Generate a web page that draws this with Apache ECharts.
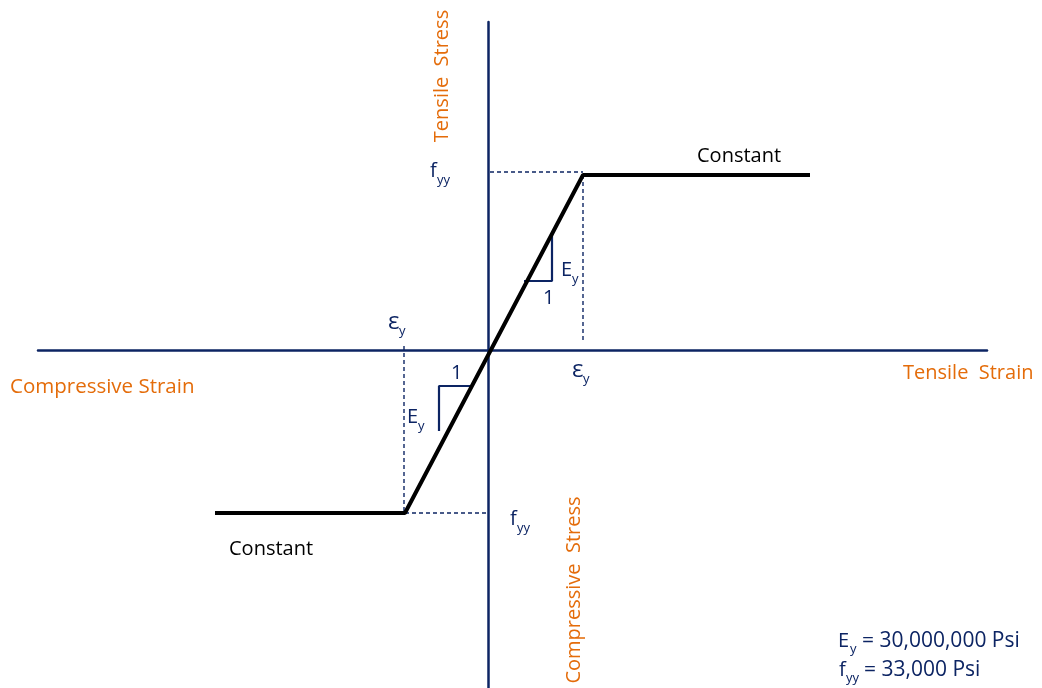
<!DOCTYPE html>
<html>
<head>
<meta charset="utf-8">
<script src="https://cdn.jsdelivr.net/npm/echarts@6/dist/echarts.min.js"></script>
<style>
  html, body { margin: 0; padding: 0; background: #fff; }
  #chart { width: 1042px; height: 688px; }
</style>
</head>
<body>
<div id="chart"></div>
<script>
// strain / stress in drawing units (origin at the axes crossing)
const curveStrain = [-273, -83, 95, 322]
const curveStress = [-163, -163, 175, 175]

// dashed guide lines: [x1, y1, x2, y2]
const guides = [
    [2, 178, 95, 178],
    [95, 175, 95, 7],
    [-84, 4, -84, -163],
    [-83, -163, 0, -163]
]

// slope triangles (horizontal "1" leg, vertical "Ey" leg)
const slopeMarks = [
    [[36, 69], [64, 69], [64, 116]],
    [[-17, -36], [-49, -36], [-49, -81]]
]

const navy = "#0c2463"
const orange = "#e46c0a"
const font = "Open Sans"

let chart = echarts.init(document.getElementById("chart"))

let series = [
    {
        type: "line",
        data: curveStrain.map((x, i) => [x, curveStress[i]]),
        symbol: "none",
        lineStyle: { color: "#000", width: 4 },
        z: 5
    }
]
guides.forEach(g => {
    series.push({
        type: "line",
        data: [[g[0], g[1]], [g[2], g[3]]],
        symbol: "none",
        lineStyle: { color: navy, width: 1.4, type: [4, 3] },
        z: 2
    })
})
slopeMarks.forEach(m => {
    series.push({
        type: "line",
        data: m,
        symbol: "none",
        lineStyle: { color: navy, width: 2.2 },
        z: 3
    })
})

// text helper: main text + optional subscript
function txt(x, y, s, color, size, extra) {
    return Object.assign({
        type: "text",
        x: x, y: y,
        style: { text: s, fill: color, font: size + "px '" + font + "'", textVerticalAlign: "middle" }
    }, extra || {})
}
function sym(x, y, main, sub, size) {
    size = size || 19
    return [
        txt(x, y, main, navy, size),
        txt(x + (main === "f" ? 7 : 11), y + 9, sub, navy, 13)
    ]
}
function vtxt(x, y, s) {
    return {
        type: "text", x: x, y: y, rotation: Math.PI / 2,
        style: { text: s, fill: orange, font: "20px '" + font + "'", align: "center", verticalAlign: "middle" }
    }
}

let graphics = [
    txt(697, 156, "Constant", "#000", 20),
    txt(229, 549, "Constant", "#000", 20),
    txt(10, 387, "Compressive Strain", orange, 20.5),
    txt(903, 373, "Tensile  Strain", orange, 20),
    vtxt(442, 76, "Tensile  Stress"),
    vtxt(574, 590, "Compressive  Stress"),
    txt(543, 298, "1", navy, 20),
    txt(451, 373, "1", navy, 20),
    txt(838, 641, "E", navy, 20),
    txt(850, 649, "y", navy, 13),
    txt(862, 641, "= 30,000,000 Psi", navy, 21),
    txt(839, 670, "f", navy, 20),
    txt(846, 678, "yy", navy, 13),
    txt(864, 670, "= 33,000 Psi", navy, 21)
]
graphics = graphics
    .concat(sym(430, 171, "f", "yy", 20))
    .concat(sym(510, 519, "f", "yy", 20))
    .concat(sym(388, 322, "ε", "y", 24))
    .concat(sym(572, 370, "ε", "y", 24))
    .concat(sym(561, 270, "E", "y", 20))
    .concat(sym(407, 417, "E", "y", 20))

let option = {
    animation: false,
    grid: { left: 38, right: 55, top: 22, bottom: 0 },
    xAxis: {
        type: "value",
        min: -450,
        max: 499,
        axisLine: { show: true, onZero: true, lineStyle: { color: navy, width: 2.5 } },
        axisTick: { show: false },
        axisLabel: { show: false },
        splitLine: { show: false }
    },
    yAxis: {
        type: "value",
        min: -338,
        max: 328,
        axisLine: { show: true, onZero: true, lineStyle: { color: navy, width: 2.5 } },
        axisTick: { show: false },
        axisLabel: { show: false },
        splitLine: { show: false }
    },
    series: series,
    graphic: graphics
}
chart.setOption(option)
</script>
</body>
</html>
